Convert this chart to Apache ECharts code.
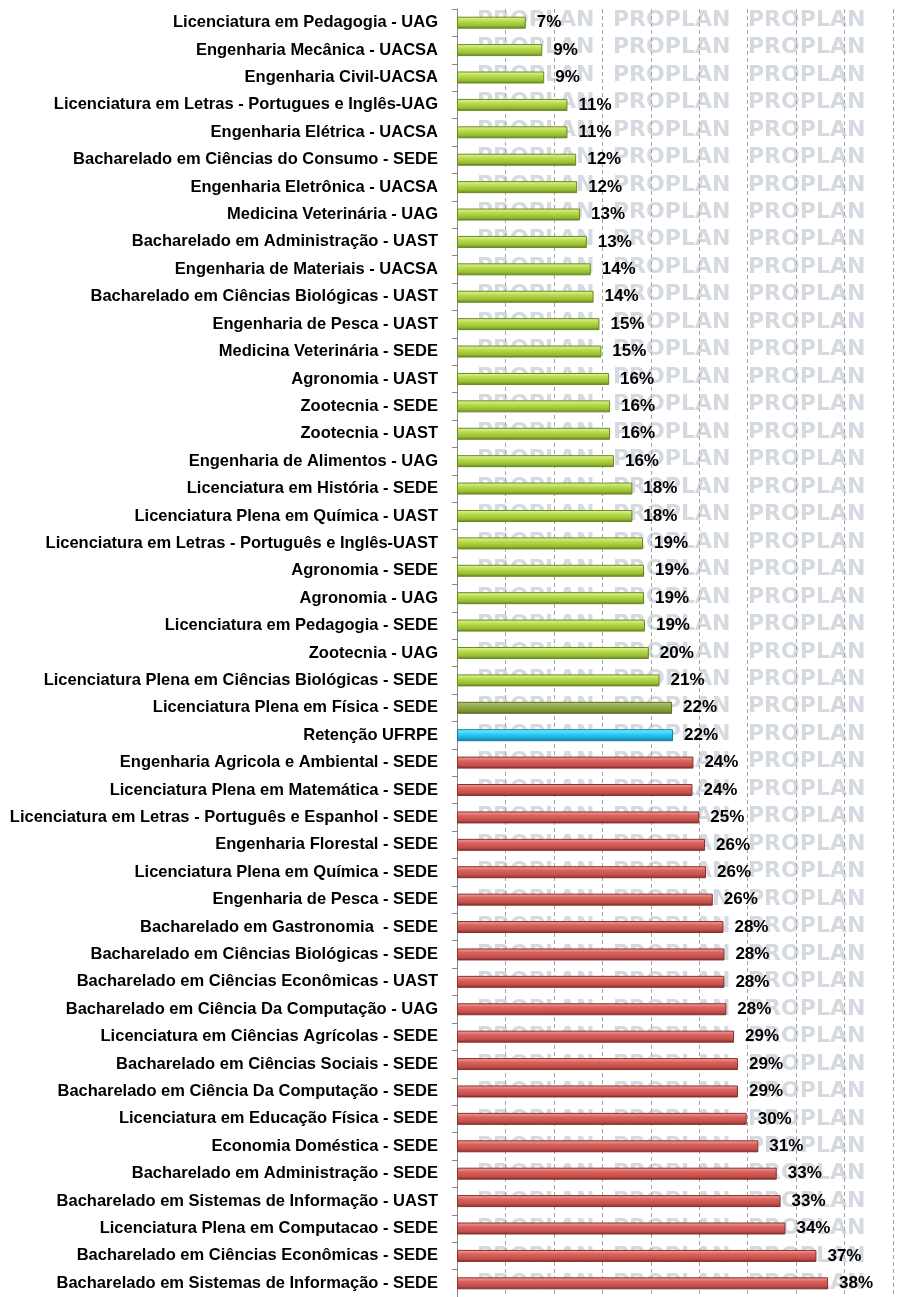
<!DOCTYPE html>
<html>
<head>
<meta charset="utf-8">
<script src="https://cdn.jsdelivr.net/npm/echarts@6/dist/echarts.min.js"></script>
<style>
  html, body { margin: 0; padding: 0; background: #fff; }
  #grafico { width: 912px; height: 1297px; }
</style>
</head>
<body>
<div id="grafico"></div>
<script>
// Cursos (de cima para baixo) e taxa de retenção em %
var cursos = [
    'Licenciatura em Pedagogia - UAG',
    'Engenharia Mecânica - UACSA',
    'Engenharia Civil-UACSA',
    'Licenciatura em Letras - Portugues e Inglês-UAG',
    'Engenharia Elétrica - UACSA',
    'Bacharelado em Ciências do Consumo - SEDE',
    'Engenharia Eletrônica - UACSA',
    'Medicina Veterinária - UAG',
    'Bacharelado em Administração - UAST',
    'Engenharia de Materiais - UACSA',
    'Bacharelado em Ciências Biológicas - UAST',
    'Engenharia de Pesca - UAST',
    'Medicina Veterinária - SEDE',
    'Agronomia - UAST',
    'Zootecnia - SEDE',
    'Zootecnia - UAST',
    'Engenharia de Alimentos - UAG',
    'Licenciatura em História - SEDE',
    'Licenciatura Plena em Química - UAST',
    'Licenciatura em Letras - Português e Inglês-UAST',
    'Agronomia - SEDE',
    'Agronomia - UAG',
    'Licenciatura em Pedagogia - SEDE',
    'Zootecnia - UAG',
    'Licenciatura Plena em Ciências Biológicas - SEDE',
    'Licenciatura Plena em Física - SEDE',
    'Retenção UFRPE',
    'Engenharia Agricola e Ambiental - SEDE',
    'Licenciatura Plena em Matemática - SEDE',
    'Licenciatura em Letras - Português e Espanhol - SEDE',
    'Engenharia Florestal - SEDE',
    'Licenciatura Plena em Química - SEDE',
    'Engenharia de Pesca - SEDE',
    'Bacharelado em Gastronomia  - SEDE',
    'Bacharelado em Ciências Biológicas - SEDE',
    'Bacharelado em Ciências Econômicas - UAST',
    'Bacharelado em Ciência Da Computação - UAG',
    'Licenciatura em Ciências Agrícolas - SEDE',
    'Bacharelado em Ciências Sociais - SEDE',
    'Bacharelado em Ciência Da Computação - SEDE',
    'Licenciatura em Educação Física - SEDE',
    'Economia Doméstica - SEDE',
    'Bacharelado em Administração - SEDE',
    'Bacharelado em Sistemas de Informação - UAST',
    'Licenciatura Plena em Computacao - SEDE',
    'Bacharelado em Ciências Econômicas - SEDE',
    'Bacharelado em Sistemas de Informação - SEDE'
];

var retencao = [
    7.1, 8.8, 9.0, 11.4, 11.4, 12.3, 12.4, 12.7, 13.4, 13.8,
    14.1, 14.7, 14.9, 15.7, 15.8, 15.8, 16.2, 18.1, 18.1, 19.2,
    19.3, 19.3, 19.4, 19.8, 20.9, 22.2, 22.3, 24.4, 24.3, 25.0,
    25.6, 25.7, 26.4, 27.5, 27.6, 27.6, 27.8, 28.6, 29.0, 29.0,
    29.9, 31.1, 33.0, 33.4, 33.9, 37.1, 38.3
];

var eixoMax = 45;
var eixoPasso = 5;

var mediaNome = 'Retenção UFRPE';
var destaqueNome = 'Licenciatura Plena em Física - SEDE';

function grad(c0, c1, c2, c3) {
    return {
        type: 'linear', x: 0, y: 0, x2: 0, y2: 1,
        colorStops: [
            { offset: 0, color: c0 },
            { offset: 0.35, color: c1 },
            { offset: 0.75, color: c2 },
            { offset: 1, color: c3 }
        ]
    };
}

var corVerde = grad('#e6f7a3', '#b9dc4e', '#98bc33', '#5f7d1c');
var corOliva = grad('#b9cc78', '#95ad4a', '#7d9538', '#566b22');
var corAzul = grad('#8eeeff', '#33d3f7', '#1ba8d8', '#13739a');
var corVermelho = grad('#f2a7a3', '#da625e', '#c04e4a', '#7f2a28');

var valorMedia = retencao[cursos.indexOf(mediaNome)];

var dadosBarras = retencao.map(function (v, i) {
    var nome = cursos[i];
    var cor, borda;
    if (nome === mediaNome) { cor = corAzul; borda = '#157ea6'; }
    else if (nome === destaqueNome) { cor = corOliva; borda = '#5b7024'; }
    else if (v < valorMedia) { cor = corVerde; borda = '#6a8a20'; }
    else { cor = corVermelho; borda = '#8a2f2c'; }
    return { value: v, itemStyle: { color: cor, borderColor: borda, borderWidth: 1 } };
});

// marca d'água PROPLAN atrás das barras
var marcas = [];
for (var i = 0; i < cursos.length; i++) {
    [477, 613, 748].forEach(function (x) {
        marcas.push({
            type: 'text',
            x: x,
            y: 20 + i * 27.47,
            silent: true,
            style: {
                text: 'PROPLAN',
                fill: '#d5d9e0',
                font: 'bold 22px "DejaVu Sans", sans-serif',
                verticalAlign: 'middle'
            }
        });
    });
}

var myChart = echarts.init(document.getElementById('grafico'));

var option = {
    backgroundColor: '#ffffff',
    animation: false,
    graphic: { z: -10, zlevel: 0, elements: marcas },
    grid: {
        left: 457,
        right: 19,
        top: 9,
        height: 1291
    },
    xAxis: {
        type: 'value',
        min: 0,
        max: eixoMax,
        interval: eixoPasso,
        axisLabel: { show: false },
        axisLine: { show: false },
        axisTick: { show: false },
        splitLine: {
            show: true,
            lineStyle: { color: '#a6a6a6', type: [4, 3], width: 1 }
        }
    },
    yAxis: {
        type: 'category',
        inverse: true,
        data: cursos,
        axisLine: { show: true, lineStyle: { color: '#868686', width: 1 } },
        axisTick: { show: true, length: 5, lineStyle: { color: '#868686' } },
        axisLabel: {
            color: '#000',
            fontFamily: '"Liberation Sans", Arial, sans-serif',
            fontWeight: 'bold',
            fontSize: 16.5,
            margin: 19
        },
        splitLine: { show: false }
    },
    series: [{
        name: 'Retenção',
        type: 'bar',
        data: dadosBarras,
        barWidth: 12,
        label: {
            show: true,
            position: 'right',
            distance: 11,
            color: '#000',
            fontFamily: '"Liberation Sans", Arial, sans-serif',
            fontWeight: 'bold',
            fontSize: 17,
            formatter: function (p) { return Math.round(p.value) + '%'; }
        }
    }]
};

myChart.setOption(option);
</script>
</body>
</html>
